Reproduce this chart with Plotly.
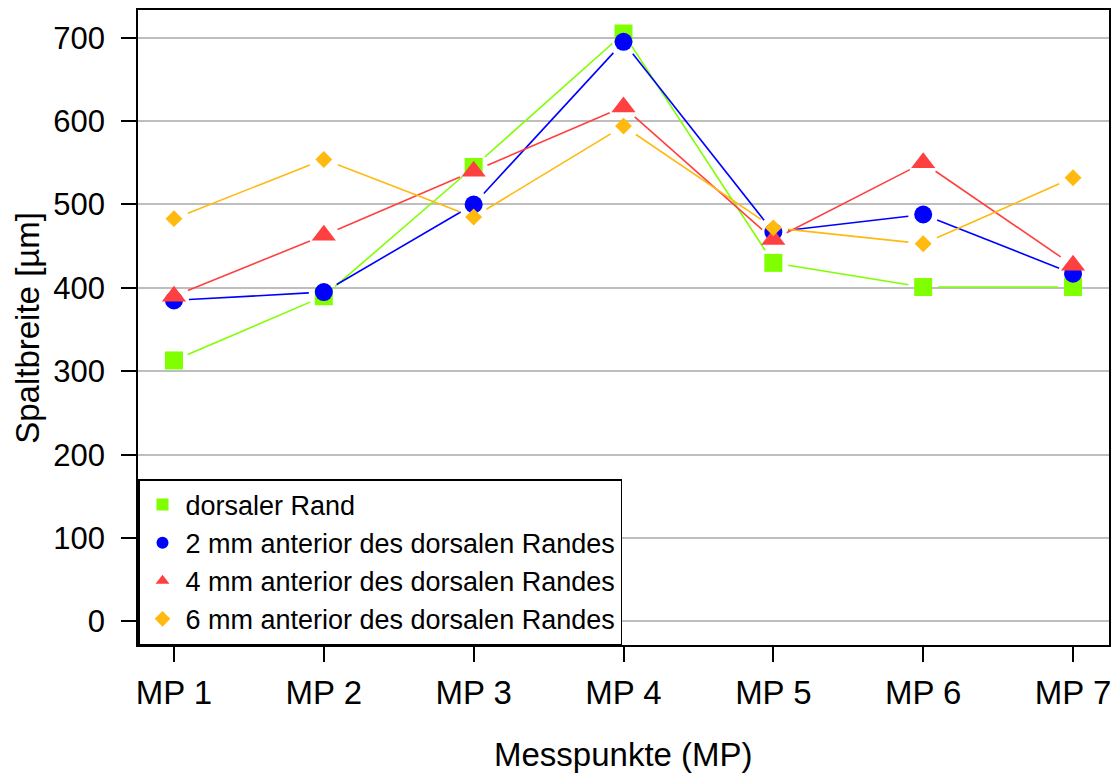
import math
import plotly.graph_objects as go

# Measuring points and gap widths (µm) per distance from the dorsal edge
categories = ["MP 1", "MP 2", "MP 3", "MP 4", "MP 5", "MP 6", "MP 7"]
dorsal_edge = [313, 390, 545, 705, 430, 401, 401]
anterior_2mm = [385, 395, 500, 695, 467, 488, 417]
anterior_4mm = [390, 463, 540, 617, 458, 550, 427]
anterior_6mm = [483, 554, 485, 594, 472, 453, 532]

series_names = [
    "dorsaler Rand",
    "2 mm anterior des dorsalen Randes",
    "4 mm anterior des dorsalen Randes",
    "6 mm anterior des dorsalen Randes",
]
y_ticks = [0, 100, 200, 300, 400, 500, 600, 700]

series = [dorsal_edge, anterior_2mm, anterior_4mm, anterior_6mm]
colors = ["#7FFF00", "#0000FF", "#FF4040", "#FFB90F"]
symbols = ["square", "circle", "triangle-up", "diamond"]
sizes = [18, 18, 21, 13]

W, H = 1117, 774
margin = dict(l=138, r=6, t=10, b=129)
x_range = [0.76, 7.24]
y_range = [-28.2, 733.2]

# pixel scale of the plotting area, used to leave a gap around each point
px_per_x = (W - margin["l"] - margin["r"]) / (x_range[1] - x_range[0])
px_per_y = (H - margin["t"] - margin["b"]) / (y_range[1] - y_range[0])
GAP = 15.0

xs = list(range(1, len(categories) + 1))


def gapped_segments(xv, yv):
    sx, sy = [], []
    for i in range(len(xv) - 1):
        dx = (xv[i + 1] - xv[i]) * px_per_x
        dy = (yv[i + 1] - yv[i]) * px_per_y
        length = math.hypot(dx, dy)
        if length <= 2 * GAP:
            continue
        ux, uy = dx / length, dy / length
        sx += [xv[i] + GAP * ux / px_per_x, xv[i + 1] - GAP * ux / px_per_x, None]
        sy += [yv[i] + GAP * uy / px_per_y, yv[i + 1] - GAP * uy / px_per_y, None]
    return sx, sy


fig = go.Figure()
for name, vals, col, sym, sz in zip(series_names, series, colors, symbols, sizes):
    lx, ly = gapped_segments(xs, vals)
    fig.add_trace(go.Scatter(
        x=lx, y=ly, mode="lines", line=dict(color=col, width=1.6),
        showlegend=False, hoverinfo="skip", cliponaxis=False,
    ))
    fig.add_trace(go.Scatter(
        x=xs, y=vals, mode="markers", name=name,
        marker=dict(color=col, symbol=sym, size=sz, line=dict(width=0)),
        cliponaxis=False,
    ))

font_family = "Liberation Sans, Arial, sans-serif"

fig.update_layout(
    width=W, height=H,
    margin=dict(l=margin["l"], r=margin["r"], t=margin["t"], b=margin["b"], pad=0),
    paper_bgcolor="white", plot_bgcolor="white",
    font=dict(family=font_family, size=33, color="black"),
    showlegend=True,
    legend=dict(
        x=0, y=0, xanchor="left", yanchor="bottom",
        bgcolor="white", bordercolor="black", borderwidth=1.5,
        font=dict(size=27, family=font_family),
        tracegroupgap=0, itemsizing="constant", itemwidth=36,
    ),
    xaxis=dict(
        range=x_range, tickmode="array", tickvals=xs, ticktext=categories,
        showgrid=False, zeroline=False,
        showline=True, mirror=True, linecolor="black", linewidth=1.5,
        ticks="outside", ticklen=15, tickwidth=1.5, tickcolor="black",
        ticklabelstandoff=3,
        tickfont=dict(size=33),
    ),
    yaxis=dict(
        range=y_range, tickmode="array", tickvals=y_ticks,
        ticktext=[str(v) for v in y_ticks],
        showgrid=True, gridcolor="#BEBEBE", gridwidth=1.5, zeroline=False,
        showline=True, mirror=True, linecolor="black", linewidth=1.5,
        ticks="outside", ticklen=15, tickwidth=1.5, tickcolor="black",
        ticklabelstandoff=10,
        tickfont=dict(size=31),
    ),
    annotations=[
        dict(text="Messpunkte (MP)", xref="paper", yref="paper",
             x=0.5, y=-0.172, xanchor="center", yanchor="middle",
             showarrow=False, font=dict(size=33)),
        dict(text="Spaltbreite [µm]", xref="paper", yref="paper",
             x=-0.114, y=0.5, xanchor="center", yanchor="middle",
             textangle=-90, showarrow=False, font=dict(size=33)),
    ],
)

fig.write_html("out.html")
